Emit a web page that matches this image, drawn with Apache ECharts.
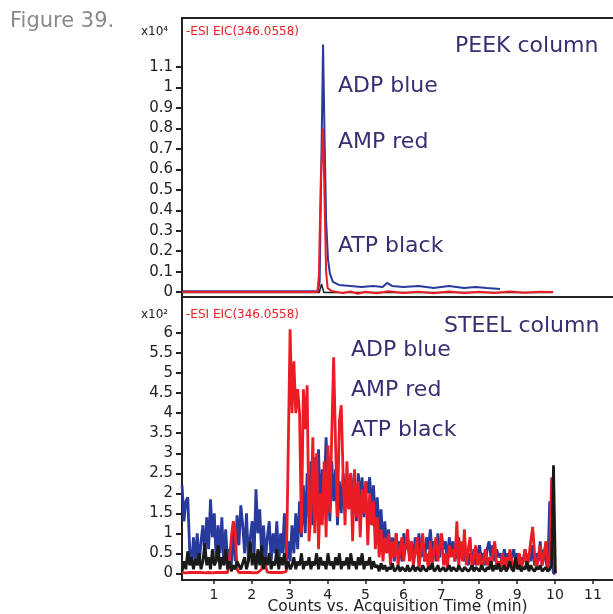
<!DOCTYPE html>
<html>
<head>
<meta charset="utf-8">
<script src="https://cdn.jsdelivr.net/npm/echarts@6/dist/echarts.min.js"></script>
<style>
  html, body { margin: 0; padding: 0; background: #fff; }
  #main { width: 613px; height: 614px; }
</style>
</head>
<body>
<div id="main"></div>
<script>
// ---- PEEK column (x10^4 counts) ----
const peekBlueTime = [0.16, 3.74, 3.79, 3.84, 3.88, 3.92, 3.96, 4.01, 4.06, 4.14, 4.3, 4.6, 4.9, 5.2, 5.45, 5.57, 5.7, 6.0, 6.4, 6.8, 7.2, 7.6, 7.9, 8.2, 8.55];
const peekBlue = [0.004, 0.004, 0.05, 0.7, 1.21, 0.75, 0.35, 0.16, 0.09, 0.05, 0.035, 0.03, 0.025, 0.03, 0.025, 0.045, 0.03, 0.025, 0.03, 0.02, 0.03, 0.02, 0.025, 0.02, 0.015];
const peekRedTime = [0.16, 3.73, 3.77, 3.82, 3.88, 3.92, 3.96, 4.0, 4.1, 4.4, 4.6, 4.8, 5.0, 5.3, 5.6, 6.0, 6.4, 6.8, 7.2, 7.6, 8.0, 8.4, 8.8, 9.2, 9.6, 9.95];
const peekRed = [0, 0, 0.08, 0.55, 0.80, 0.45, 0.1, 0.02, 0.005, -0.005, 0.003, -0.008, 0.002, -0.006, 0.004, -0.004, 0.002, -0.006, 0.003, -0.005, 0.002, -0.004, 0.003, -0.003, 0.002, 0];
const peekBlackTime = [0.16, 3.78, 3.84, 3.9, 9.95];
const peekBlack = [-0.002, -0.002, 0.04, -0.002, -0.002];

// ---- STEEL column (x10^2 counts), sampled every 0.05 min from 0.16 ----
const steelTime = Array.from({ length: 198 }, (_, i) => +(0.16 + i * 0.05).toFixed(2));
const steelBlue = [
  2.2,1.3,1.8,1.9,0.6,0.2,0.9,0.3,1.0,0.2,0.8,1.2,0.4,1.4,0.6,1.85,0.9,1.5,0.3,1.2,
  0.5,1.4,0.2,1.1,0.3,0.6,0.2,1.2,0.3,1.45,0.7,1.7,1.2,0.5,1.5,0.3,0.9,1.3,0.4,2.1,
  1.0,1.6,0.4,1.2,0.3,0.9,1.3,0.3,1.0,0.5,1.3,0.2,1.0,0.5,1.5,0.2,0.8,0.3,1.2,0.5,
  1.5,0.6,1.8,0.9,2.2,1.0,2.5,1.4,2.8,1.2,2.9,1.6,3.1,1.5,2.6,2.0,3.4,2.2,1.3,2.8,
  1.8,2.6,1.2,2.3,1.5,2.5,1.9,2.4,1.6,2.5,2.0,2.4,1.3,2.5,1.8,2.4,1.4,2.3,2.0,2.4,
  1.6,2.2,1.3,1.9,1.0,1.6,0.7,1.3,0.6,1.1,0.4,0.9,0.3,1.0,0.5,0.8,0.3,1.0,0.6,0.9,
  0.4,0.8,0.3,0.9,0.5,1.0,0.4,0.7,0.3,0.9,0.6,1.1,0.5,0.8,0.3,1.0,0.4,0.9,0.6,0.8,
  0.3,0.9,0.5,0.8,0.3,0.6,0.9,0.4,0.7,0.3,0.6,0.2,0.5,0.3,0.6,0.2,0.5,0.7,0.3,0.5,
  0.2,0.6,0.8,0.4,0.7,0.3,0.6,0.4,0.5,0.2,0.6,0.3,0.5,0.2,0.4,0.6,0.3,0.5,0.2,0.4,
  0.3,0.6,0.2,0.5,0.3,0.7,0.2,0.5,0.3,0.8,0.2,0.6,0.3,0.1,1.8,0.4,0.0,0.0
];
const steelRed = [
  0.02,0.02,0.01,0.02,0.02,0.01,0.02,0.02,0.02,0.01,0.02,0.02,0.01,0.02,0.02,0.02,0.01,0.02,0.02,0.02,
  0.02,0.02,0.02,0.02,0.02,0.3,0.9,1.3,1.1,0.1,0.02,0.02,0.02,0.01,0.02,0.02,0.02,0.02,0.01,0.02,
  0.02,0.02,0.1,0.42,0.2,0.03,0.02,0.02,0.02,0.02,0.02,0.02,0.02,0.02,0.02,0.05,3.0,6.1,4.0,5.3,
  4.0,4.6,4.0,1.0,4.6,3.6,4.7,0.8,1.5,3.4,1.0,3.0,0.6,2.0,1.2,2.8,0.9,3.2,1.5,3.5,
  5.4,3.2,1.4,3.8,4.2,2.4,1.2,2.8,1.6,2.5,0.8,2.6,1.4,2.3,0.9,2.1,1.5,2.3,0.7,2.0,
  1.2,1.8,0.6,1.4,0.4,1.1,0.3,0.9,0.5,1.0,0.2,0.8,0.4,1.0,0.2,0.6,0.9,0.3,0.7,1.1,
  0.3,0.8,0.2,0.5,0.9,0.1,0.6,1.0,0.3,0.5,0.1,0.8,0.2,0.6,0.9,0.3,0.7,1.0,0.2,0.5,
  0.1,0.7,0.4,0.6,0.3,1.3,0.2,0.8,0.3,1.1,0.2,0.6,0.9,0.1,0.4,0.7,0.2,0.5,0.1,0.3,
  0.6,0.2,0.4,0.1,0.5,0.8,0.2,0.3,0.1,0.5,0.2,0.4,0.1,0.6,0.3,0.1,0.4,0.2,0.5,0.1,
  0.3,0.6,0.1,0.4,0.8,1.16,0.5,0.1,0.4,0.7,0.2,0.5,0.8,0.1,0.3,2.4,0.3,0.0
];
const steelBlack = [
  0.05,0.3,0.1,0.55,0.2,0.4,0.1,0.35,0.2,0.5,0.1,0.3,0.75,0.2,0.4,0.1,0.6,0.2,0.3,0.7,
  0.1,0.4,0.2,0.6,0.1,0.3,0.05,0.2,0.1,0.3,0.2,0.1,0.25,0.4,0.1,0.3,0.8,0.2,0.5,0.1,
  0.6,0.2,0.7,0.1,0.4,0.2,0.5,0.1,0.3,0.2,0.6,0.1,0.4,0.2,0.5,0.1,0.3,0.1,0.2,0.4,
  0.1,0.3,0.2,0.5,0.1,0.3,0.2,0.4,0.1,0.3,0.2,0.5,0.1,0.4,0.2,0.3,0.1,0.5,0.2,0.3,
  0.1,0.4,0.2,0.5,0.1,0.3,0.2,0.4,0.1,0.5,0.2,0.3,0.1,0.4,0.2,0.5,0.1,0.3,0.2,0.4,
  0.1,0.3,0.15,0.2,0.05,0.25,0.1,0.2,0.05,0.15,0.1,0.25,0.05,0.1,0.2,0.05,0.15,0.1,0.05,0.2,
  0.05,0.1,0.2,0.05,0.15,0.1,0.05,0.2,0.1,0.05,0.15,0.1,0.25,0.05,0.1,0.2,0.05,0.1,0.15,0.05,
  0.1,0.2,0.05,0.15,0.1,0.05,0.2,0.1,0.05,0.15,0.1,0.05,0.1,0.2,0.05,0.15,0.1,0.05,0.2,0.1,
  0.05,0.15,0.1,0.3,0.05,0.2,0.1,0.25,0.05,0.1,0.2,0.05,0.15,0.3,0.1,0.05,0.4,0.1,0.2,0.05,
  0.15,0.1,0.3,0.05,0.2,0.1,0.05,0.15,0.1,0.2,0.05,0.1,0.15,0.05,0.1,0.2,2.7,0.0
];

// tick labels
const xTicks = [1, 2, 3, 4, 5, 6, 7, 8, 9, 10, 11];
const peekTicks = [0, 0.1, 0.2, 0.3, 0.4, 0.5, 0.6, 0.7, 0.8, 0.9, 1, 1.1];
const steelTicks = [0, 0.5, 1, 1.5, 2, 2.5, 3, 3.5, 4, 4.5, 5, 5.5, 6];

const BLUE = '#283a9c', RED = '#ec1c24', BLACK = '#1a1a1a', INK = '#3a2d72';
const FONT = 'DejaVu Sans';
const X_MIN = 0.158, X_MAX = 11.53;

const zip = (t, v) => t.map((x, i) => [x, v[i]]);

const myChart = echarts.init(document.getElementById('main'));

const axisLine = { show: true, onZero: false, lineStyle: { color: '#222', width: 2 } };
const labelStyle = { color: '#222', fontFamily: FONT, fontSize: 15 };

const yAxisBase = (min, max, ticks) => ({
    type: 'value', min: min, max: max,
    axisLine: axisLine,
    axisTick: { show: true, customValues: ticks, length: 6, lineStyle: { color: '#222', width: 2 } },
    axisLabel: Object.assign({ customValues: ticks, margin: 9 }, labelStyle),
    splitLine: { show: false }
});

const lineSeries = (name, x, y, data, color, width, z) => ({
    name: name, type: 'line', xAxisIndex: x, yAxisIndex: y,
    data: data, showSymbol: false, symbol: 'none', z: z,
    lineStyle: { color: color, width: width }, itemStyle: { color: color }
});

const txt = (text, x, y, size, color) => ({
    type: 'text', x: x, y: y, z: 100,
    style: { text: text, fill: color, font: size + 'px "' + FONT + '"', verticalAlign: 'middle' }
});

let option = {
    backgroundColor: '#fff',
    animation: false,
    grid: [
        { left: 182, top: 18, right: 0, height: 279, outerBoundsMode: 'none', containLabel: false },
        { left: 182, top: 298, right: 0, height: 282, outerBoundsMode: 'none', containLabel: false }
    ],
    xAxis: [
        { gridIndex: 0, type: 'value', min: X_MIN, max: X_MAX, axisLine: axisLine,
          axisTick: { show: false }, axisLabel: { show: false }, splitLine: { show: false } },
        { gridIndex: 0, type: 'value', position: 'top', min: X_MIN, max: X_MAX, axisLine: axisLine,
          axisTick: { show: false }, axisLabel: { show: false }, splitLine: { show: false } },
        { gridIndex: 1, type: 'value', min: X_MIN, max: X_MAX, axisLine: axisLine,
          axisTick: { show: true, customValues: xTicks, length: 4, lineStyle: { color: '#222', width: 1.5 } },
          axisLabel: Object.assign({ customValues: xTicks, margin: 8 }, labelStyle, { fontSize: 14 }),
          splitLine: { show: false },
          name: 'Counts vs. Acquisition Time (min)', nameLocation: 'middle', nameGap: 19,
          nameMoveOverlap: false,
          nameTextStyle: { color: '#222', fontFamily: FONT, fontSize: 15.5, lineHeight: 15 } }
    ],
    yAxis: [
        Object.assign({ gridIndex: 0 }, yAxisBase(-0.024, 1.34, peekTicks)),
        Object.assign({ gridIndex: 1 }, yAxisBase(-0.1675, 6.88, steelTicks))
    ],
    series: [
        lineSeries('ADP', 0, 0, zip(peekBlueTime, peekBlue), BLUE, 2, 2),
        lineSeries('ATP', 0, 0, zip(peekBlackTime, peekBlack), BLACK, 1.5, 3),
        lineSeries('AMP', 0, 0, zip(peekRedTime, peekRed), RED, 2, 4),
        lineSeries('ADP', 2, 1, zip(steelTime, steelBlue), BLUE, 2.8, 2),
        lineSeries('AMP', 2, 1, zip(steelTime, steelRed), RED, 2.8, 3),
        lineSeries('ATP', 2, 1, zip(steelTime, steelBlack), BLACK, 2.8, 4)
    ],
    graphic: [
        txt('Figure 39.', 10, 22, 21, '#8a8a8a'),
        txt('x10⁴', 141, 32, 12, '#222'),
        txt('-ESI EIC(346.0558)', 186, 32, 12, RED),
        txt('x10²', 141, 315, 12, '#222'),
        txt('-ESI EIC(346.0558)', 186, 315, 12, RED),
        txt('PEEK column', 455, 46, 22, INK),
        txt('ADP blue', 338, 86, 22, INK),
        txt('AMP red', 338, 142, 22, INK),
        txt('ATP black', 338, 246, 22, INK),
        txt('STEEL column', 444, 326, 22, INK),
        txt('ADP blue', 351, 350, 22, INK),
        txt('AMP red', 351, 390, 22, INK),
        txt('ATP black', 351, 430, 22, INK)
    ]
};
myChart.setOption(option, true);
window.addEventListener('resize', function () {
    myChart.resize();
});
</script>
</body>
</html>
